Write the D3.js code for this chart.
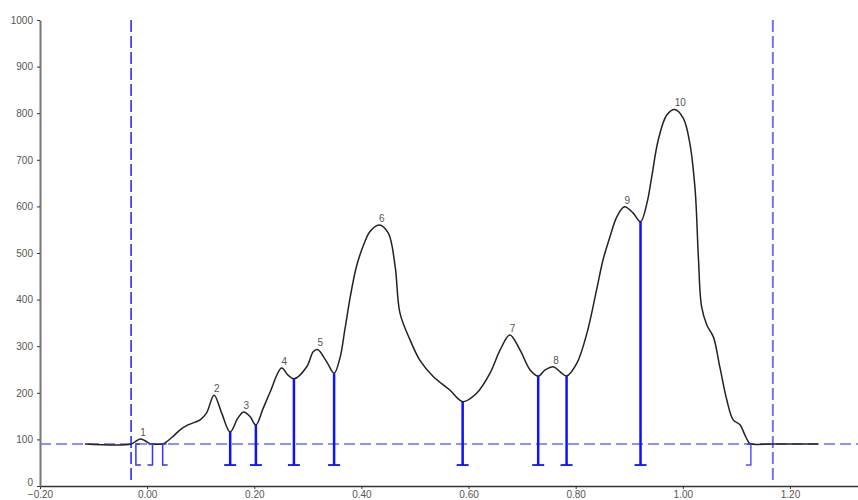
<!DOCTYPE html>
<html>
<head>
<meta charset="utf-8">
<script src="https://cdn.jsdelivr.net/npm/d3@7"></script>
<style>
  html, body { margin: 0; padding: 0; background: #fff; }
  svg { display: block; font-family: "Liberation Sans", Arial, sans-serif; }
</style>
</head>
<body>
<svg id="chart" width="858" height="500"></svg>
<script>
// Signal trace (time, response)
const traceX = [-0.116, -0.030, -0.021, -0.013, -0.004, 0.005, 0.010, 0.029, 0.033, 0.046, 0.061, 0.076, 0.099, 0.111, 0.125, 0.139, 0.155, 0.169, 0.180, 0.192, 0.203, 0.216, 0.229, 0.251, 0.263, 0.274, 0.298, 0.310, 0.318, 0.335, 0.349, 0.360, 0.369, 0.379, 0.391, 0.404, 0.416, 0.433, 0.450, 0.463, 0.472, 0.491, 0.509, 0.534, 0.565, 0.589, 0.615, 0.640, 0.659, 0.677, 0.696, 0.715, 0.730, 0.743, 0.758, 0.771, 0.783, 0.802, 0.821, 0.839, 0.851, 0.864, 0.877, 0.891, 0.907, 0.921, 0.933, 0.942, 0.954, 0.970, 0.985, 1.001, 1.013, 1.023, 1.029, 1.035, 1.045, 1.057, 1.069, 1.082, 1.094, 1.107, 1.116, 1.124, 1.127, 1.168, 1.252];
const traceY = [90, 90, 96, 101, 97, 91, 90, 90, 92, 104, 120, 131, 142, 157, 195, 157, 116, 145, 159, 149, 131, 165, 200, 253, 238, 230, 256, 288, 293, 267, 242, 275, 335, 405, 472, 517, 546, 560, 543, 471, 371, 313, 270, 235, 206, 181, 199, 242, 292, 324, 292, 249, 236, 249, 256, 245, 236, 263, 328, 421, 485, 535, 578, 599, 586, 567, 607, 664, 742, 796, 808, 789, 736, 635, 492, 385, 345, 320, 256, 185, 142, 131, 109, 92, 90, 90, 90];

// Peak apexes and their numbers
const peakNames = ["1", "2", "3", "4", "5", "6", "7", "8", "9", "10"];
const peakX = [-0.013, 0.125, 0.180, 0.251, 0.318, 0.433, 0.677, 0.758, 0.891, 0.985];
const peakY = [101, 195, 159, 253, 293, 560, 324, 256, 599, 808];

// Valley drop lines between neighbouring peaks
const valleyX = [0.155, 0.203, 0.274, 0.349, 0.589, 0.730, 0.783, 0.921];
const valleyY = [116, 131, 230, 242, 181, 236, 236, 567];

// Peak start / end markers that sit on the baseline
const markerX = [-0.021, 0.010, 0.029, 1.127];
const markerSide = [1, -1, 1, -1];   // foot direction: 1 = right, -1 = left

// Baseline level, integration window and marker floor
const baselineLevel = 90;
const windowStart = -0.030;
const windowEnd = 1.168;
const markerFloor = 45;

// Axis ticks
const xTicks = [-0.2, 0.0, 0.2, 0.4, 0.6, 0.8, 1.0, 1.2];
const yTicks = [0, 100, 200, 300, 400, 500, 600, 700, 800, 900, 1000];

const svg = d3.select("#chart");
const W = 858, H = 500;

const x = d3.scaleLinear().domain([-0.2, 1.327]).range([40, 858]);
const y = d3.scaleLinear().domain([0, 1000]).range([486, 20]);

// Axes
const xAxis = d3.axisBottom(x).tickValues(xTicks).tickFormat(d3.format(".2f")).tickSize(3).tickSizeOuter(0);
const gx = svg.append("g").attr("transform", `translate(0,${y(0)})`).call(xAxis);
gx.select(".domain").attr("stroke", "#333").attr("stroke-width", 1.5);
gx.selectAll(".tick line").attr("stroke", "#333");
gx.selectAll(".tick text").attr("fill", "#555").attr("font-size", 10).attr("dy", "0.55em")
  .attr("font-family", "Liberation Sans, Arial, sans-serif");

const yAxis = d3.axisLeft(y).tickValues(yTicks).tickFormat(d3.format("d")).tickSize(3).tickSizeOuter(0);
const gy = svg.append("g").attr("transform", `translate(${x(-0.2)},0)`).call(yAxis);
gy.select(".domain").attr("stroke", "#777").attr("stroke-width", 2);
gy.selectAll(".tick line").attr("stroke", "#333");
gy.selectAll(".tick text").attr("fill", "#555").attr("font-size", 10).attr("dx", "-1")
  .attr("font-family", "Liberation Sans, Arial, sans-serif");
// the zero label sits just above the corner so it clears the first x label
gy.selectAll(".tick text").filter(d => d === 0).attr("dy", "-0.1em");

// Baseline (dashed)
svg.append("line")
  .attr("x1", x(-0.2)).attr("x2", W)
  .attr("y1", y(baselineLevel)).attr("y2", y(baselineLevel))
  .attr("stroke", "#6a6aff").attr("stroke-width", 1.6)
  .attr("stroke-dasharray", "11,5");

// Integration window (dashed verticals)
svg.append("line")
  .attr("x1", x(windowStart)).attr("x2", x(windowStart))
  .attr("y1", y(1000)).attr("y2", y(0) - 3)
  .attr("stroke", "#2a2aff").attr("stroke-width", 1.6)
  .attr("stroke-dasharray", "12,4");
svg.append("line")
  .attr("x1", x(windowEnd)).attr("x2", x(windowEnd))
  .attr("y1", y(1000)).attr("y2", y(0) - 3)
  .attr("stroke", "#7272ff").attr("stroke-width", 2)
  .attr("stroke-dasharray", "12,4");

// Signal trace
const pts = traceX.map((d, i) => [d, traceY[i]]);
svg.append("path")
  .datum(pts)
  .attr("fill", "none")
  .attr("stroke", "#222")
  .attr("stroke-width", 1.5)
  .attr("d", d3.line().x(d => x(d[0])).y(d => y(d[1])).curve(d3.curveCatmullRom.alpha(0.5)));

// Valley drop lines with T feet
const vg = svg.append("g").attr("stroke", "#1010ff").attr("fill", "none");
valleyX.forEach((vx, i) => {
  vg.append("line")
    .attr("x1", x(vx)).attr("x2", x(vx))
    .attr("y1", y(valleyY[i])).attr("y2", y(markerFloor))
    .attr("stroke-width", 2.5);
  vg.append("line")
    .attr("x1", x(vx) - 6).attr("x2", x(vx) + 6)
    .attr("y1", y(markerFloor)).attr("y2", y(markerFloor))
    .attr("stroke-width", 1.8);
});

// Start / end bracket markers on the baseline
const mg = svg.append("g").attr("stroke", "#3535ff").attr("fill", "none").attr("stroke-width", 1.5);
markerX.forEach((mx, i) => {
  const px = x(mx), s = markerSide[i];
  mg.append("path")
    .attr("d", `M${px + s * 4},${y(baselineLevel)} L${px},${y(baselineLevel)} L${px},${y(markerFloor)} L${px + s * 5},${y(markerFloor)}`)
    .attr("stroke-opacity", i === 3 ? 0.85 : 1);
});

// Peak numbers
svg.append("g").selectAll("text")
  .data(peakNames)
  .join("text")
  .attr("x", (d, i) => x(peakX[i]))
  .attr("y", (d, i) => y(peakY[i]) - 3)
  .attr("font-size", 10)
  .attr("fill", "#555")
  .attr("text-anchor", "start")
  .text(d => d);
</script>
</body>
</html>
